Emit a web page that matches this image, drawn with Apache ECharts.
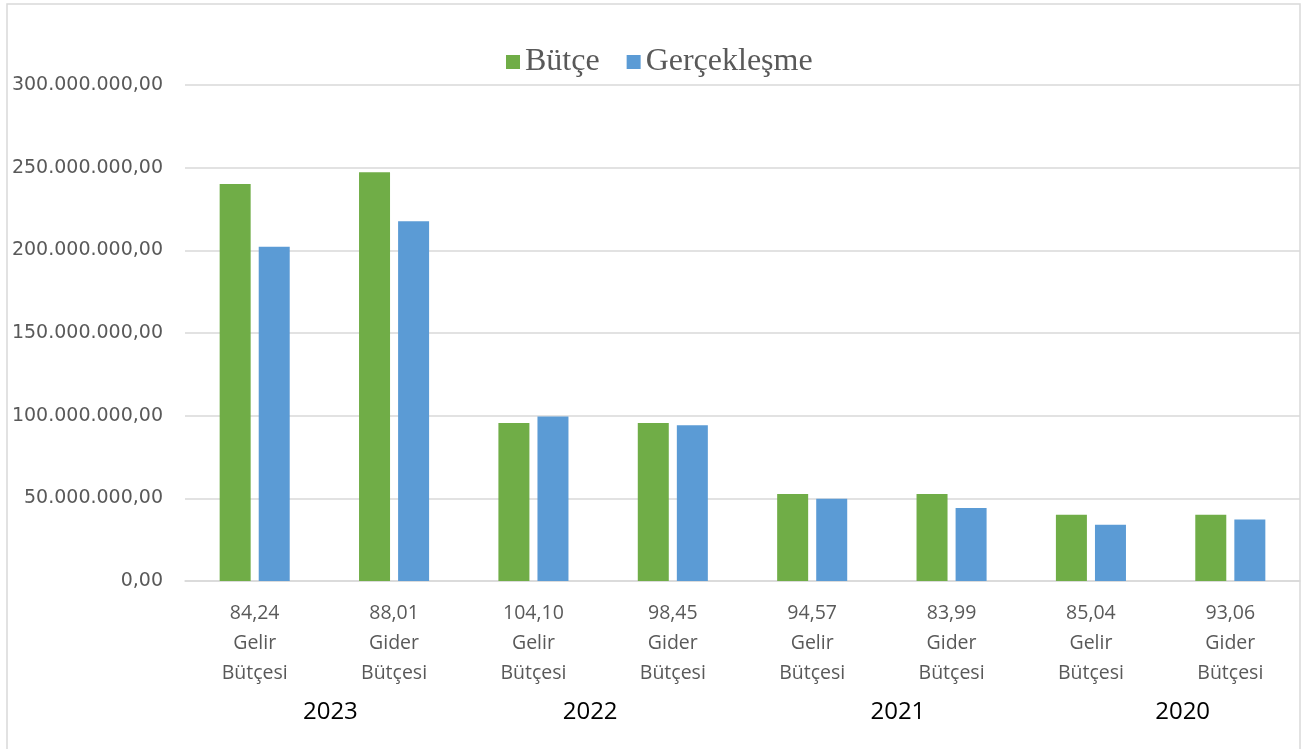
<!DOCTYPE html>
<html>
<head>
<meta charset="utf-8">
<script src="https://cdn.jsdelivr.net/npm/echarts@6/dist/echarts.min.js"></script>
<style>
  html, body { margin: 0; padding: 0; background: #fff; }
  #chart { width: 1307px; height: 749px; }
</style>
</head>
<body>
<div id="chart"></div>
<script>
// oranlar (gerçekleşme / bütçe, %)
var oranlar = ['84,24', '88,01', '104,10', '98,45', '94,57', '83,99', '85,04', '93,06'];
var turler = ['Gelir', 'Gider', 'Gelir', 'Gider', 'Gelir', 'Gider', 'Gelir', 'Gider'];
var yillar = ['2023', '2022', '2021', '2020'];
var butce = [240100000, 247200000, 95600000, 95600000, 52600000, 52600000, 40100000, 40100000];
var gerceklesme = [202200000, 217600000, 99500000, 94200000, 49700000, 44200000, 34000000, 37200000];
var yTicks = [0, 50000000, 100000000, 150000000, 200000000, 250000000, 300000000];

var kategoriler = oranlar.map(function (o, i) {
  return o + '\n' + turler[i] + '\nBütçesi';
});

// 300000000 -> "300.000.000,00"
function formatTL(v) {
  var s = Math.round(v).toString().replace(/\B(?=(\d{3})+(?!\d))/g, '.');
  return s + ',00';
}

// yıl etiketleri Excel'deki gibi biraz kaymış duruyor
var yilStil = {
  y0: { padding: [0, 0, 0, 12] },
  y1: { padding: [0, 26, 0, 0] },
  y2: { padding: [0, 0, 0, 32] },
  y3: { padding: [0, 0, 0, 44] }
};

var chart = echarts.init(document.getElementById('chart'));
var option = {
  animation: false,
  graphic: [{
    type: 'rect',
    z: -10,
    shape: { x: 7, y: 4, width: 1293, height: 780 },
    style: { fill: 'none', stroke: '#d9d9d9', lineWidth: 1.5 }
  }],
  legend: {
    data: ['Bütçe', 'Gerçekleşme'],
    left: 501,
    top: 41,
    icon: 'rect',
    itemWidth: 14,
    itemHeight: 14,
    itemGap: 27,
    textStyle: {
      fontFamily: 'Liberation Serif',
      fontSize: 32,
      color: '#595959'
    }
  },
  grid: {
    left: 185,
    right: 7,
    top: 85,
    bottom: 168
  },
  xAxis: [{
    type: 'category',
    data: kategoriler,
    axisLine: { lineStyle: { color: '#d9d9d9', width: 1.5 } },
    axisTick: { show: false },
    axisLabel: {
      interval: 0,
      margin: 17,
      fontFamily: 'Open Sans',
      fontSize: 19.5,
      lineHeight: 30,
      color: '#595959'
    }
  }, {
    type: 'category',
    data: yillar,
    position: 'bottom',
    offset: 110,
    axisLine: { show: false },
    axisTick: { show: false },
    axisLabel: {
      interval: 0,
      margin: 9,
      fontFamily: 'Open Sans',
      fontSize: 24,
      lineHeight: 24,
      color: '#000',
      formatter: function (v, i) { return '{y' + i + '|' + v + '}'; },
      rich: yilStil
    }
  }],
  yAxis: {
    type: 'value',
    min: yTicks[0],
    max: yTicks[yTicks.length - 1],
    interval: yTicks[1] - yTicks[0],
    axisLine: { show: false },
    axisTick: { show: false },
    splitLine: { lineStyle: { color: '#d9d9d9', width: 1.5 } },
    axisLabel: {
      margin: 22,
      fontFamily: 'DejaVu Sans',
      fontSize: 19,
      color: '#595959',
      formatter: formatTL
    }
  },
  series: [{
    name: 'Bütçe',
    type: 'bar',
    xAxisIndex: 0,
    data: butce,
    barWidth: 31,
    barGap: '26%',
    itemStyle: { color: '#70ad47' }
  }, {
    name: 'Gerçekleşme',
    type: 'bar',
    xAxisIndex: 0,
    data: gerceklesme,
    barWidth: 31,
    barGap: '26%',
    itemStyle: { color: '#5b9bd5' }
  }]
};
chart.setOption(option);
</script>
</body>
</html>
